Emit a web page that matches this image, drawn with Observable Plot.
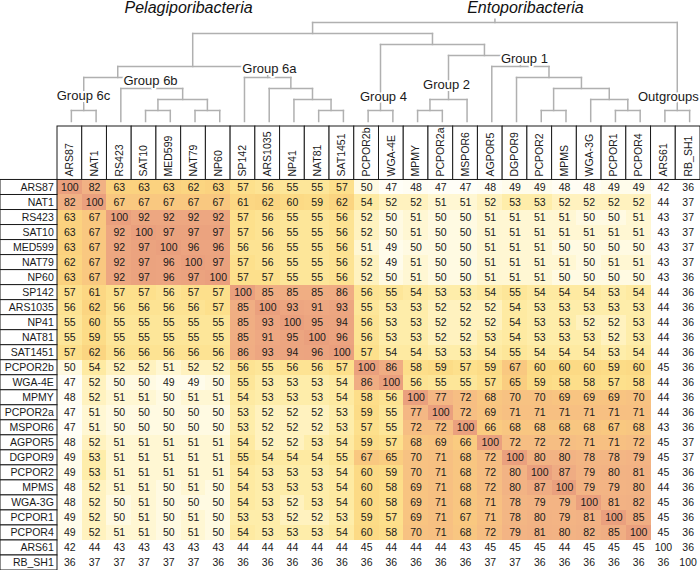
<!DOCTYPE html>
<html><head><meta charset="utf-8">
<script src="https://cdn.jsdelivr.net/npm/d3@7"></script>
<script src="https://cdn.jsdelivr.net/npm/@observablehq/plot@0.6"></script>
<style>
html,body{margin:0;padding:0;background:#fff;}
#chart{width:700px;height:570px;overflow:hidden;line-height:0;}
#chart svg{display:block;}
</style></head><body><div id="chart"></div>
<script>
// ---------------- data ----------------
const taxa = ["ARS87","NAT1","RS423","SAT10","MED599","NAT79","NP60","SP142","ARS1035","NP41","NAT81","SAT1451",
  "PCPOR2b","WGA-4E","MPMY","PCPOR2a","MSPOR6","AGPOR5","DGPOR9","PCPOR2","MPMS","WGA-3G","PCPOR1","PCPOR4","ARS61","RB_SH1"];
const outgroups = ["ARS61","RB_SH1"];

// percent identity, rows/columns in the order of `taxa`
const identity = [
  [100,82,63,63,63,62,63,57,56,55,55,57,50,47,48,47,47,48,49,49,48,48,49,49,42,36],
  [82,100,67,67,67,67,67,61,62,60,59,62,54,52,52,51,51,52,53,53,52,52,52,52,44,37],
  [63,67,100,92,92,92,92,57,56,55,55,56,52,50,51,50,50,51,51,51,51,50,50,51,43,37],
  [63,67,92,100,97,97,97,57,56,55,55,56,52,50,51,50,50,51,51,51,51,51,51,51,43,37],
  [63,67,92,97,100,96,96,56,56,55,55,56,51,49,50,50,50,51,51,51,50,50,50,50,43,37],
  [62,67,92,97,96,100,97,57,56,55,55,56,52,49,51,50,50,51,51,51,51,50,51,51,43,37],
  [63,67,92,97,96,97,100,57,57,55,55,56,52,50,51,50,50,51,51,51,50,50,50,50,43,36],
  [57,61,57,57,56,57,57,100,85,85,85,86,56,55,54,53,53,54,55,54,54,54,53,54,44,36],
  [56,62,56,56,56,56,57,85,100,93,91,93,55,53,53,52,52,52,54,53,53,53,53,53,44,36],
  [55,60,55,55,55,55,55,85,93,100,95,94,56,53,53,52,52,52,54,53,53,52,52,53,44,36],
  [55,59,55,55,55,55,55,85,91,95,100,96,56,53,53,52,52,53,54,53,53,53,52,53,44,36],
  [57,62,56,56,56,56,56,86,93,94,96,100,57,54,54,53,53,54,55,54,54,54,53,54,44,36],
  [50,54,52,52,51,52,52,56,55,56,56,57,100,86,58,59,57,59,67,60,60,60,59,60,45,36],
  [47,52,50,50,49,49,50,55,53,53,53,54,86,100,56,55,55,57,65,59,58,58,57,58,44,36],
  [48,52,51,51,50,51,51,54,53,53,53,54,58,56,100,77,72,68,70,70,69,69,69,70,44,36],
  [47,51,50,50,50,50,50,53,52,52,52,53,59,55,77,100,72,69,71,71,71,71,71,71,44,36],
  [47,51,50,50,50,50,50,53,52,52,52,53,57,55,72,72,100,66,68,68,68,68,67,68,43,36],
  [48,52,51,51,51,51,51,54,52,52,53,54,59,57,68,69,66,100,72,72,72,71,71,72,45,37],
  [49,53,51,51,51,51,51,55,54,54,54,55,67,65,70,71,68,72,100,80,80,78,78,79,45,37],
  [49,53,51,51,51,51,51,54,53,53,53,54,60,59,70,71,68,72,80,100,87,79,80,81,45,36],
  [48,52,51,51,50,51,50,54,53,53,53,54,60,58,69,71,68,72,80,87,100,79,79,80,44,36],
  [48,52,50,51,50,50,50,54,53,52,53,54,60,58,69,71,68,71,78,79,79,100,81,82,45,36],
  [49,52,50,51,50,51,50,53,53,52,52,53,59,57,69,71,67,71,78,80,79,81,100,85,45,36],
  [49,52,51,51,50,51,50,54,53,53,53,54,60,58,70,71,68,72,79,81,80,82,85,100,45,36],
  [42,44,43,43,43,43,43,44,44,44,44,44,45,44,44,44,43,45,45,45,44,45,45,45,100,36],
  [36,37,37,37,37,37,36,36,36,36,36,36,36,36,36,36,36,37,37,36,36,36,36,36,36,100]
];

// cladogram topology (nested pairs of leaf names)
const tree = [
  [
    [ [["ARS87","NAT1"], ["RS423", [["SAT10","MED599"], ["NAT79","NP60"]]]],
      ["SP142", ["ARS1035", ["NP41", ["NAT81","SAT1451"]]]] ],
    [ ["PCPOR2b","WGA-4E"],
      [ [["MPMY","PCPOR2a"], "MSPOR6"],
        ["AGPOR5", ["DGPOR9", [["PCPOR2","MPMS"], ["WGA-3G", ["PCPOR1","PCPOR4"]]]]] ] ]
  ],
  ["ARS61","RB_SH1"]
];

const cladeTitles = ["Pelagiporibacteria", "Entoporibacteria"];
const groupNames = ["Group 6c","Group 6b","Group 6a","Group 4","Group 2","Group 1","Outgroups"];

// ---------------- layout (positions / styles) ----------------
const FONT = "'Liberation Sans', Arial, Helvetica, sans-serif";
const W = 700;
const labelUnits = 2.305;                  // row-label column width, in column units
const xDomain = [-labelUnits, taxa.length];
const headerUnits = 3.56;                  // header box height, in row units
const titleAt = [{x: 5.3, lvl: -1.3}, {x: 18.92, lvl: -1.3}];
const groupAt = [{x:1.05,lvl:6.64},{x:3.76,lvl:5.27},{x:8.57,lvl:4.18},{x:13.18,lvl:6.73},
                 {x:15.73,lvl:5.64},{x:18.88,lvl:3.27},{x:24.7,lvl:6.73}];

const colorDomain = [45, 48, 50, 51, 52, 53, 55, 57, 60, 63, 67, 72, 80, 90, 100];
const colorRange = ["#ffffff","#fffdf3","#fffae2","#fff7d3","#fff2bf","#feedaa","#fde699","#fde08c",
                    "#fcda85","#fbd27f","#f9c880","#f6be83","#f2b384","#eea982","#eaa07e"];

// ---------------- dendrogram geometry from topology ----------------
const leafIdx = new Map(taxa.map((t, i) => [t, i]));
function build(node) {
  if (typeof node === "string") return {x: leafIdx.get(node) + 0.5, h: 0, kids: []};
  const kids = node.map(build);
  return {x: d3.mean([kids[0].x, kids[kids.length - 1].x]), h: d3.max(kids, k => k.h) + 1, kids};
}
const treeRoot = build(tree);
const maxH = treeRoot.h;
const segs = [];
(function walk(n) {
  const lvl = maxH - n.h;
  if (!n.kids.length) return;
  segs.push({x1: n.kids[0].x, x2: n.kids[n.kids.length - 1].x, y1: lvl, y2: lvl});
  for (const k of n.kids) {
    segs.push({x1: k.x, x2: k.x, y1: lvl, y2: maxH - k.h});
    walk(k);
  }
})(treeRoot);
segs.push({x1: treeRoot.x, x2: treeRoot.x, y1: 0, y2: -0.3});

// ---------------- top: dendrogram ----------------
const dendroPlot = Plot.plot({
  width: W, height: 126,
  margin: 0,
  x: {type: "linear", domain: xDomain, axis: null},
  y: {type: "linear", domain: [-2, 9.4545], reverse: true, axis: null},
  style: {fontFamily: FONT, background: "white", overflow: "visible"},
  marks: [
    Plot.link(segs, {x1: "x1", x2: "x2", y1: "y1", y2: "y2", stroke: "#b0b0b0", strokeWidth: 1.5,
      strokeLinecap: "square", dx: 1.5}),
    Plot.text(cladeTitles, {x: (d, i) => titleAt[i].x, y: (d, i) => titleAt[i].lvl, text: d => d,
      fontSize: 16, fontStyle: "italic", fill: "#111"}),
    Plot.text(groupNames, {x: (d, i) => groupAt[i].x, y: (d, i) => groupAt[i].lvl, text: d => d,
      fontSize: 13, fill: "#1a1a1a", stroke: "white", strokeWidth: 4})
  ]
});

// ---------------- bottom: header + matrix ----------------
const cells = [];
identity.forEach((row, r) => row.forEach((v, c) => cells.push({r, c, v,
  out: outgroups.includes(taxa[r]) || outgroups.includes(taxa[c])})));

const matrixPlot = Plot.plot({
  width: W, height: 444,
  margin: 0,
  x: {type: "linear", domain: xDomain, axis: null},
  y: {type: "linear", domain: [-headerUnits, taxa.length], reverse: true, axis: null},
  color: {type: "linear", domain: colorDomain, range: colorRange, clamp: true},
  style: {fontFamily: FONT, background: "white", overflow: "visible"},
  marks: [
    Plot.rect(cells.filter(d => !d.out), {x1: "c", x2: d => d.c + 1, y1: "r", y2: d => d.r + 1,
      fill: "v", shapeRendering: "crispEdges"}),
    Plot.text(cells, {x: d => d.c + 0.5, y: d => d.r + 0.5, text: "v", fontSize: 10.5, fill: "#1a1a1a"}),
    Plot.rect(taxa, {x1: (d, i) => i, x2: (d, i) => i + 1, y1: -headerUnits, y2: 0,
      fill: "white", stroke: "#1a1a1a", strokeWidth: 1}),
    Plot.text(taxa, {x: (d, i) => i + 0.5, y: 0, text: d => d, rotate: -90, textAnchor: "start",
      dy: -3.5, fontSize: 10.5, fill: "#1a1a1a"}),
    Plot.rect(taxa, {x1: -labelUnits, x2: 0, y1: (d, i) => i, y2: (d, i) => i + 1,
      fill: "white", stroke: "#1a1a1a", strokeWidth: 1}),
    Plot.text(taxa, {x: 0, y: (d, i) => i + 0.5, text: d => d, textAnchor: "end", dx: -3.7,
      fontSize: 10.5, fill: "#1a1a1a"})
  ]
});

const chart = document.getElementById("chart");
chart.appendChild(dendroPlot);
chart.appendChild(matrixPlot);
</script>
</body></html>
